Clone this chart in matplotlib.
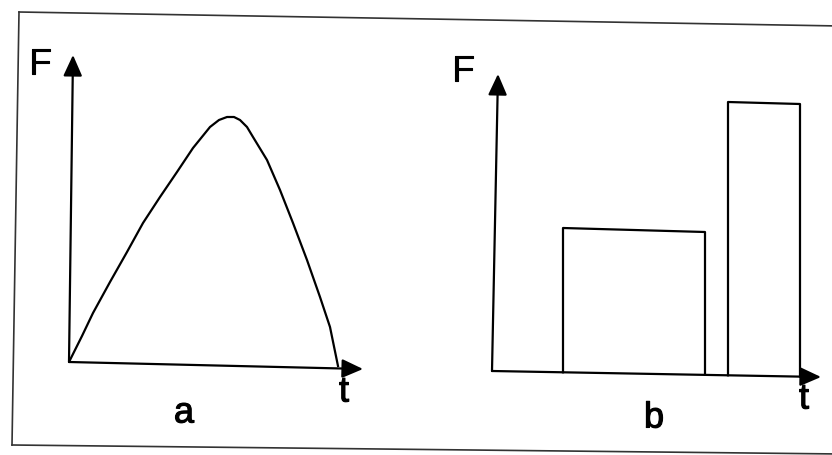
import matplotlib
matplotlib.use("Agg")
import matplotlib.pyplot as plt
import matplotlib.patheffects as pe

plt.rcParams["font.family"] = ["Liberation Sans", "DejaVu Sans"]

# panel a: force curve F(t) (pixel units, y down)
curve_t = [70, 82, 93, 110, 127, 143, 160, 177, 193, 210, 219, 227, 234,
           240, 247, 253, 267, 280, 293, 307, 320, 330, 338]
curve_f = [360, 336, 313, 282, 252, 223, 197, 172, 148, 127, 120, 117, 117,
           120, 127, 137, 160, 190, 223, 260, 297, 327, 366]

# panel b: two rectangular pulses (left, right, top)
pulse_left = [563, 728]
pulse_right = [705, 800]
pulse_top_l = [228, 102]
pulse_top_r = [232, 104]

# axes of both panels: origin, end of x axis, top of y axis
origins = [(69, 362), (492, 371)]
x_ends = [(363, 369), (821, 377)]
y_tops = [(73, 55), (498, 74)]
f_labels = [(40, 64), (463, 71)]
t_labels = [(344, 392), (804, 399)]
panel_names = ["a", "b"]
panel_pos = [(184, 413), (654, 418)]

fig = plt.figure(figsize=(8.32, 4.55), dpi=100)
ax = fig.add_axes([0, 0, 1, 1])
ax.set_xlim(0, 832)
ax.set_ylim(455, 0)
ax.axis("off")

lw = 1.6
# scanned frame
ax.plot([19, 840], [12, 26], color="#333333", lw=1.2)
ax.plot([19, 12], [12, 445], color="#333333", lw=1.2)
ax.plot([12, 840], [445, 454], color="#333333", lw=1.2)

bold = [pe.withStroke(linewidth=0.8, foreground="black")]
arrow = dict(arrowstyle="-|>,head_length=0.8,head_width=0.36", mutation_scale=16,
             lw=lw, color="black", shrinkA=0, shrinkB=0)
for i in range(2):
    ax.annotate("", xy=x_ends[i], xytext=origins[i], arrowprops=arrow)
    ax.annotate("", xy=y_tops[i], xytext=origins[i], arrowprops=arrow)
    ax.text(*f_labels[i], "F", fontsize=26, ha="center", va="center", path_effects=bold)
    ax.text(*t_labels[i], "t", fontsize=26, ha="center", va="center", path_effects=bold)
    ax.text(*panel_pos[i], panel_names[i], fontsize=26, ha="center", va="center",
            path_effects=bold)

ax.plot(curve_t, curve_f, color="black", lw=lw, solid_joinstyle="round")

# rectangles sit on the slightly sloped t axis of panel b
x0, y0 = origins[1]
x1, y1 = x_ends[1]
for l, r, tl, tr in zip(pulse_left, pulse_right, pulse_top_l, pulse_top_r):
    bl = y0 + (y1 - y0) * (l - x0) / (x1 - x0)
    br = y0 + (y1 - y0) * (r - x0) / (x1 - x0)
    ax.plot([l, l, r, r], [bl, tl, tr, br], color="black", lw=lw)

fig.savefig("out.png", dpi=100)
